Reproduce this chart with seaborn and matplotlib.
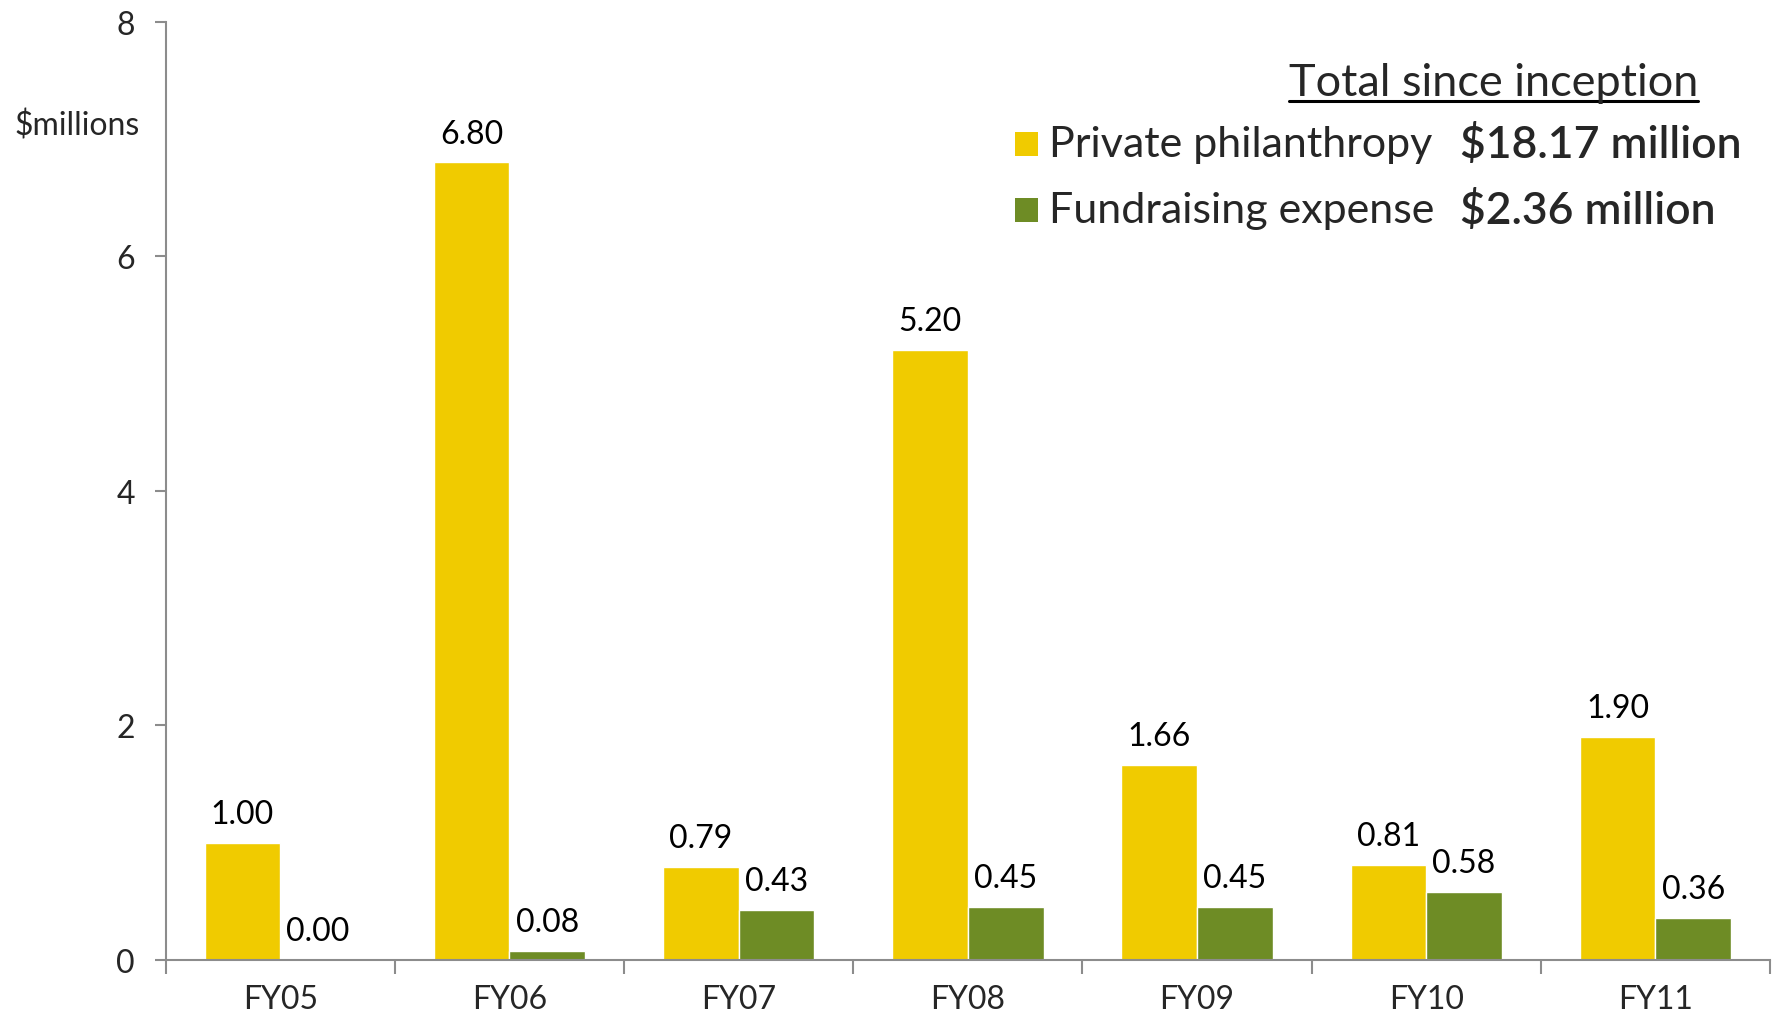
import matplotlib
matplotlib.use("Agg")
import matplotlib.pyplot as plt
import seaborn as sns
import pandas as pd
from matplotlib.patches import Rectangle

categories = ["FY05", "FY06", "FY07", "FY08", "FY09", "FY10", "FY11"]
private_philanthropy = [1.00, 6.80, 0.79, 5.20, 1.66, 0.81, 1.90]
fundraising_expense = [0.00, 0.08, 0.43, 0.45, 0.45, 0.58, 0.36]
series_names = ["Private philanthropy", "Fundraising expense"]
series_totals = ["$18.17 million", "$2.36 million"]
y_ticks = [0, 2, 4, 6, 8]

YELLOW = "#F0CB00"
GREEN = "#6E8C25"
AXIS = "#8C8C8C"

df = pd.DataFrame({
    "cat": categories * 2,
    "value": private_philanthropy + fundraising_expense,
    "series": [series_names[0]] * len(categories) + [series_names[1]] * len(categories),
})

sns.set_theme(style="white")
plt.rcParams["font.family"] = ["Lato", "DejaVu Sans"]

fig = plt.figure(figsize=(17.79, 10.12), dpi=100)
ax = fig.add_axes([0.0931, 0.0504, 0.9019, 0.9272])

sns.barplot(data=df, x="cat", y="value", hue="series", order=categories,
            hue_order=series_names, palette=[YELLOW, GREEN], width=0.66,
            saturation=1, ax=ax, legend=False, errorbar=None)

for cont in ax.containers:
    ax.bar_label(cont, fmt="%.2f", padding=10, fontsize=23, color="black")

ax.set_ylim(0, 8)
ax.set_xlim(-0.5, len(categories) - 0.5)
ax.set_yticks(y_ticks)
ax.set_yticklabels([str(t) for t in y_ticks])
ax.set_xlabel("")
ax.set_ylabel("")

for s in ["top", "right"]:
    ax.spines[s].set_visible(False)
for s in ["left", "bottom"]:
    ax.spines[s].set_color(AXIS)
    ax.spines[s].set_linewidth(1.5)

ax.tick_params(axis="y", which="major", direction="out", length=8, width=1.5,
               color=AXIS, labelsize=23, pad=14, left=True)
ax.tick_params(axis="x", which="major", length=0, labelsize=23, pad=17)
ax.set_xticks([i - 0.5 for i in range(len(categories) + 1)], minor=True)
ax.tick_params(axis="x", which="minor", direction="out", length=10, width=1.5,
               color=AXIS, bottom=True)

fig.text(14 / 1779, 1 - 126 / 1012, "$millions", fontsize=23, ha="left", va="center")

# legend block
W, H = 1779.0, 1012.0
title = fig.text(1698 / W, 1 - 84 / H, "Total since inception", fontsize=32.5,
                 ha="right", va="center")
fig.canvas.draw()
bb = title.get_window_extent(renderer=fig.canvas.get_renderer())
x0, x1 = bb.x0 / W, bb.x1 / W
fig.add_artist(plt.Line2D([x0, x1], [1 - 102 / H, 1 - 102 / H],
                          transform=fig.transFigure, color="black", lw=2.2))
rows_y = [145, 211]
for name, total, col, yy in zip(series_names, series_totals, [YELLOW, GREEN], rows_y):
    fig.add_artist(Rectangle((1015 / W, 1 - (yy + 12) / H), 23 / W, 24 / H,
                             transform=fig.transFigure, facecolor=col, edgecolor="none"))
    fig.text(1049 / W, 1 - yy / H, name, fontsize=31, ha="left", va="center")
    fig.text(1460 / W, 1 - yy / H, total, fontsize=32, ha="left", va="center",
             fontweight="semibold")

fig.savefig("out.png", dpi=100)
